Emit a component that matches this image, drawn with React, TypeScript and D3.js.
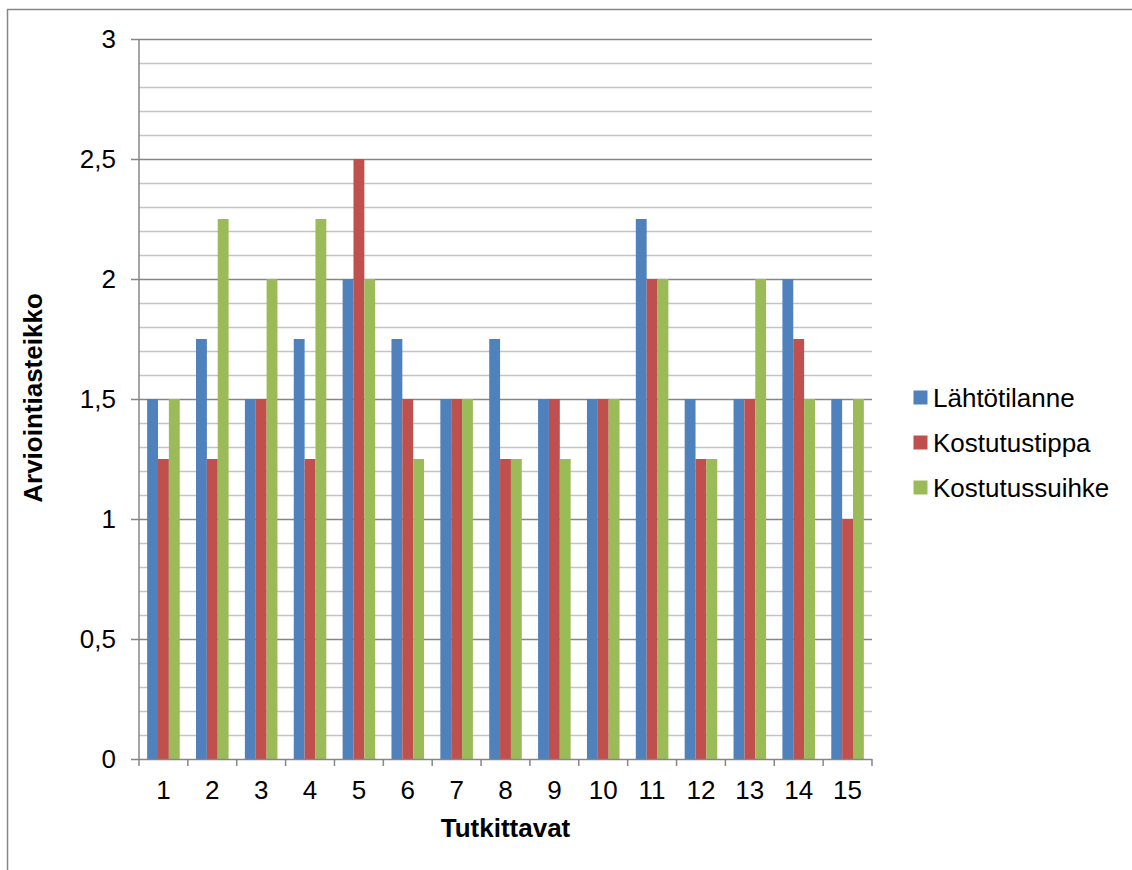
import React from "react";
import * as d3 from "d3";

const categories = ["1", "2", "3", "4", "5", "6", "7", "8", "9", "10", "11", "12", "13", "14", "15"];
const seriesNames = ["Lähtötilanne", "Kostutustippa", "Kostutussuihke"];
const lahtotilanne = [1.5, 1.75, 1.5, 1.75, 2, 1.75, 1.5, 1.75, 1.5, 1.5, 2.25, 1.5, 1.5, 2, 1.5];
const kostutustippa = [1.25, 1.25, 1.5, 1.25, 2.5, 1.5, 1.5, 1.25, 1.5, 1.5, 2, 1.25, 1.5, 1.75, 1];
const kostutussuihke = [1.5, 2.25, 2, 2.25, 2, 1.25, 1.5, 1.25, 1.25, 1.5, 2, 1.25, 2, 1.5, 1.5];
const seriesColors = ["#4F81BD", "#C0504D", "#9BBB59"];
const majorTicks = [0, 0.5, 1, 1.5, 2, 2.5, 3];
const majorLabels = ["0", "0,5", "1", "1,5", "2", "2,5", "3"];

const W = 1132;
const H = 870;
const left = 139;
const right = 872;
const top = 39;
const bottom = 759;
const FONT = "'Liberation Sans', Arial, sans-serif";
const FS = 26;

export default function App() {
  const series = [lahtotilanne, kostutustippa, kostutussuihke];
  const x = d3.scaleBand<string>().domain(categories).range([left, right]).paddingInner(0).paddingOuter(0);
  const y = d3.scaleLinear().domain([0, 3]).range([bottom, top]);
  const step = x.bandwidth();
  const barW = step / 4.5;
  const groupOffset = (step - barW * 3) / 2;

  const minor = d3.range(1, 30).map((i) => i / 10).filter((v) => Math.abs(v * 2 - Math.round(v * 2)) > 1e-6);
  const boundaries = d3.range(0, categories.length + 1).map((i) => left + i * step);

  return (
    <svg
      width={W}
      height={H}
      style={{ position: "absolute", left: 0, top: 0, background: "#fff" }}
      fontFamily={FONT}
    >
      <rect x={7.5} y={9.5} width={1300} height={1000} fill="#fff" stroke="#868686" strokeWidth={1.5} />

      {minor.map((v) => (
        <line key={"mn" + v} x1={left} x2={right} y1={Math.round(y(v)) + 0.5} y2={Math.round(y(v)) + 0.5} stroke="#c4c4c4" strokeWidth={1.3} />
      ))}
      {majorTicks.slice(1).map((v) => (
        <line key={"mj" + v} x1={left - 8} x2={right} y1={Math.round(y(v)) + 0.5} y2={Math.round(y(v)) + 0.5} stroke="#868686" strokeWidth={1.5} />
      ))}

      {categories.map((c, i) =>
        series.map((s, k) => (
          <rect
            key={c + "-" + k}
            x={(x(c) as number) + groupOffset + k * barW}
            y={y(s[i])}
            width={barW}
            height={bottom - y(s[i])}
            fill={seriesColors[k]}
          />
        ))
      )}

      {/* axes */}
      <line x1={left} x2={left} y1={top} y2={bottom} stroke="#868686" strokeWidth={1.5} />
      <line x1={left - 8} x2={right} y1={bottom + 0.5} y2={bottom + 0.5} stroke="#868686" strokeWidth={1.5} />
      {boundaries.map((bx, i) => (
        <line key={"xt" + i} x1={bx} x2={bx} y1={bottom} y2={bottom + 7} stroke="#868686" strokeWidth={1.5} />
      ))}

      {majorTicks.map((v, i) => (
        <text key={"yl" + v} x={116} y={y(v)} dy="0.35em" textAnchor="end" fontSize={FS} fill="#000">
          {majorLabels[i]}
        </text>
      ))}
      {categories.map((c) => (
        <text key={"xl" + c} x={(x(c) as number) + step / 2} y={799} textAnchor="middle" fontSize={FS} fill="#000">
          {c}
        </text>
      ))}

      <text x={(left + right) / 2} y={837} textAnchor="middle" fontSize={FS} fontWeight="bold" fill="#000">
        Tutkittavat
      </text>
      <text
        transform={`translate(42, 398) rotate(-90)`}
        textAnchor="middle"
        fontSize={FS}
        fontWeight="bold"
        fill="#000"
      >
        Arviointiasteikko
      </text>

      {seriesNames.map((name, k) => {
        const cy = 397.5 + k * 45;
        return (
          <g key={name}>
            <rect x={913.5} y={cy - 7} width={14} height={14} fill={seriesColors[k]} />
            <text x={933} y={cy} dy="0.35em" fontSize={FS} fill="#000">
              {name}
            </text>
          </g>
        );
      })}
    </svg>
  );
}
